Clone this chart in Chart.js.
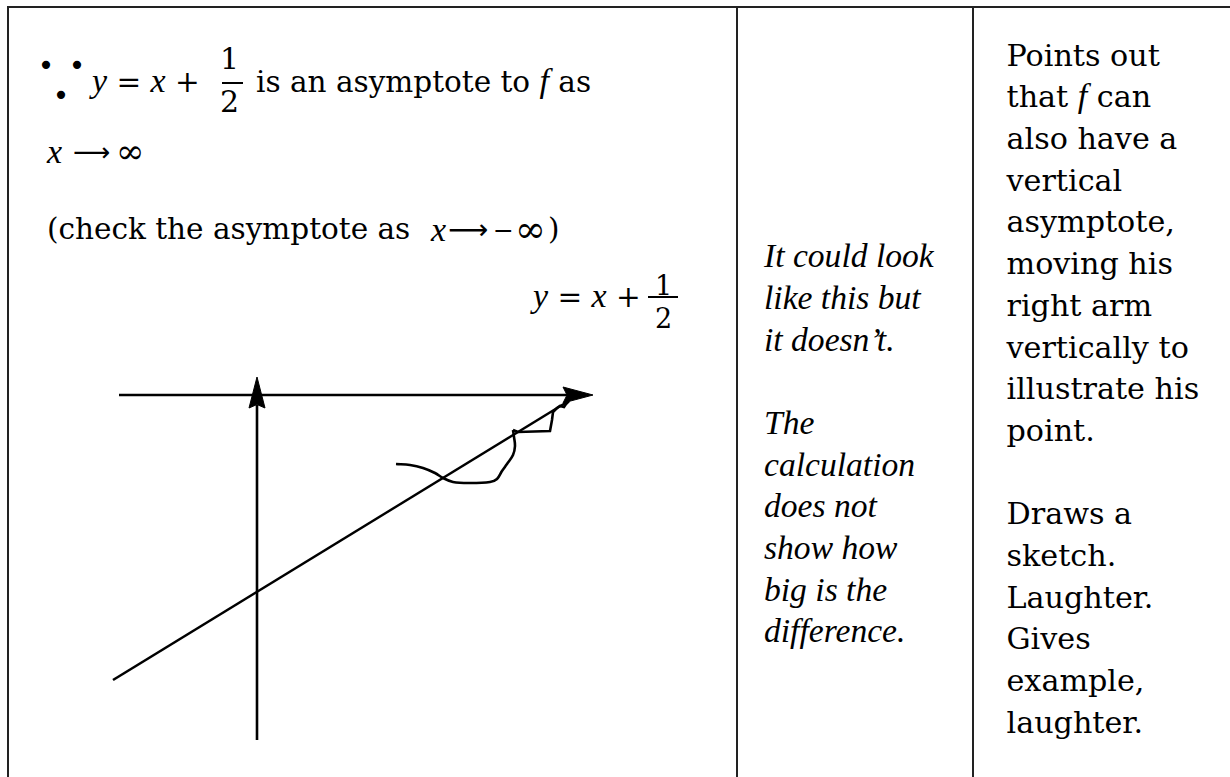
<!DOCTYPE html>
<html>
<head>
<meta charset="utf-8">
<script src="https://cdn.jsdelivr.net/npm/chart.js@4/dist/chart.umd.min.js"></script>
<style>
	body { margin: 0; background: #fff; }
	#page { position: relative; width: 1230px; height: 777px; overflow: hidden; }
	.rule { position: absolute; background: #222; }
	.m { position: absolute; font: 29.5px 'DejaVu Serif', serif; line-height: 29.5px; white-space: nowrap; color: #000; }
	.m i { font: italic 34px 'Liberation Serif', serif; line-height: 29.5px; }
	.m .ar { font-family: 'DejaVu Sans', sans-serif; line-height: 29.5px; }
	.m .inf { line-height: 29.5px; }
	.frac { position: absolute; font: 30px 'DejaVu Serif', serif; line-height: 30px; text-align: center; color: #000; }
	.frac.sm { font-size: 27px; line-height: 27px; }
	.bar { position: absolute; background: #000; height: 2.4px; }
	.dot { position: absolute; width: 28px; height: 28px; font: 28px 'DejaVu Sans', sans-serif; line-height: 28px; text-align: center; color: #000; }
	#col2 { position: absolute; left: 764px; top: 235.1px; font: italic 33.6px 'Liberation Serif', serif; line-height: 41.7px; white-space: nowrap; color: #000; }
	#col3 { position: absolute; left: 1006.5px; top: 34.6px; font: 30.2px 'DejaVu Serif', serif; line-height: 41.7px; white-space: nowrap; color: #000; }
	#col3 i { font: italic 34px 'Liberation Serif', serif; }
	#sketch { position: absolute; left: 100px; top: 360px; width: 510px; height: 400px; }
</style>
</head>
<body>
<div id="page">
	<div class="rule" style="left:7px;top:6px;width:1223px;height:2px"></div>
	<div class="rule" style="left:6.5px;top:6px;width:2px;height:771px"></div>
	<div class="rule" style="left:735.5px;top:6px;width:2px;height:771px"></div>
	<div class="rule" style="left:971.5px;top:6px;width:2px;height:771px"></div>

	<div class="dot" style="left:32px;top:52px">•</div>
	<div class="dot" style="left:63px;top:52px">•</div>
	<div class="dot" style="left:47px;top:82px">•</div>
	<div class="m" style="left:92px;top:65.7px"><i>y</i> = <i>x</i> +</div>
	<div class="frac" style="left:218px;top:43.9px;width:23px">1</div>
	<div class="bar" style="left:221.5px;top:81.5px;width:21px"></div>
	<div class="frac" style="left:218px;top:87.3px;width:23px">2</div>
	<div class="m" style="left:256px;top:65.7px">is an asymptote to <i>f</i> as</div>

	<div class="m" style="left:47px;top:137px"><i>x</i></div>
	<div class="m" style="left:73px;top:137px"><span class="ar" style="font-size:26px">⟶</span></div>
	<div class="m" style="left:116px;top:137px"><span class="inf" style="font-size:34px">∞</span></div>

	<div class="m" style="left:47px;top:215px">(check the asymptote as</div>
	<div class="m" style="left:431px;top:215px"><i>x</i></div>
	<div class="m" style="left:448px;top:215px"><span class="ar" style="font-size:28px">⟶</span></div>
	<div class="m" style="left:493px;top:215px"><span style="font-size:25px">−</span></div>
	<div class="m" style="left:515px;top:215px"><span class="inf" style="font-size:37px">∞</span></div>
	<div class="m" style="left:548px;top:215px">)</div>

	<div class="m" style="left:533px;top:281px"><i>y</i> = <i>x</i> +</div>
	<div class="frac sm" style="left:648px;top:271.5px;width:31px">1</div>
	<div class="bar" style="left:648px;top:295.5px;width:30px"></div>
	<div class="frac sm" style="left:648px;top:304.9px;width:31px">2</div>

	<div id="col2">It could look<br>like this but<br>it doesn’t.<br><br>The<br>calculation<br>does not<br>show how<br>big is the<br>difference.</div>
	<div id="col3">Points out<br>that <i>f</i> can<br>also have a<br>vertical<br>asymptote,<br>moving his<br>right arm<br>vertically to<br>illustrate his<br>point.<br><br>Draws a<br>sketch.<br>Laughter.<br>Gives<br>example,<br>laughter.</div>

	<div id="sketch"><canvas id="sketch-chart"></canvas></div>
</div>
<script>
// sketch coordinates, 1 unit = 10px, origin where the two axes cross
var hAxisX = [-13.8, 31.0], hAxisY = [0, 0];
var vAxisX = [0, 0], vAxisY = [-34.5, -1.0];
var hHeadX = [33.6, 30.6, 31.0, 30.6, 33.6], hHeadY = [0, 0.8, 0, -0.8, 0];
var vHeadX = [0, -0.8, 0, 0.8, 0], vHeadY = [1.8, -1.3, -0.95, -1.3, 1.8];
var asymX = [-14.4, 31.0], asymY = [-28.5, -0.7];
var curveX = [13.9, 15.3, 16.6, 17.8, 18.6, 19.6, 21.3, 23.3, 24.0, 24.5, 25.0, 25.6, 25.8, 25.7, 25.6];
var curveY = [-6.9, -7.0, -7.3, -7.8, -8.3, -8.7, -8.8, -8.7, -8.4, -7.6, -6.9, -6.0, -5.1, -4.2, -3.5];
var wiggleX = [25.6, 26.1, 29.3, 29.5, 29.6, 30.0, 30.3, 30.7, 30.9, 31.2];
var wiggleY = [-3.5, -3.7, -3.6, -2.5, -1.7, -1.3, -1.1, -1.2, -0.9, -0.6];

function pts(xs, ys) {
	var out = [];
	for (var i = 0; i < xs.length; i++) {
		out.push({x: xs[i], y: ys[i]});
	}
	return out;
}

function stroke(xs, ys, tension) {
	return {data: pts(xs, ys), showLine: true, borderColor: '#000', borderWidth: 2.6, pointRadius: 0, tension: tension || 0, fill: false};
}

function head(xs, ys) {
	return {data: pts(xs, ys), showLine: true, borderColor: '#000', backgroundColor: '#000', borderWidth: 1, pointRadius: 0, tension: 0, fill: 'shape'};
}

var ctx = document.getElementById('sketch-chart').getContext('2d');
var sketchChart = new Chart(ctx, {
	type: 'scatter',
	data: {
		datasets: [
			stroke(hAxisX, hAxisY),
			stroke(vAxisX, vAxisY),
			head(hHeadX, hHeadY),
			head(vHeadX, vHeadY),
			stroke(asymX, asymY),
			stroke(curveX, curveY, 0.35),
			stroke(wiggleX, wiggleY)
		]
	},
	options: {
		responsive: true,
		maintainAspectRatio: false,
		animation: false,
		events: [],
		layout: {padding: 0},
		plugins: {legend: {display: false}, tooltip: {enabled: false}},
		scales: {
			x: {type: 'linear', min: -15.7, max: 35.3, display: false},
			y: {type: 'linear', min: -36.5, max: 3.5, display: false}
		}
	}
});
</script>
</body>
</html>
